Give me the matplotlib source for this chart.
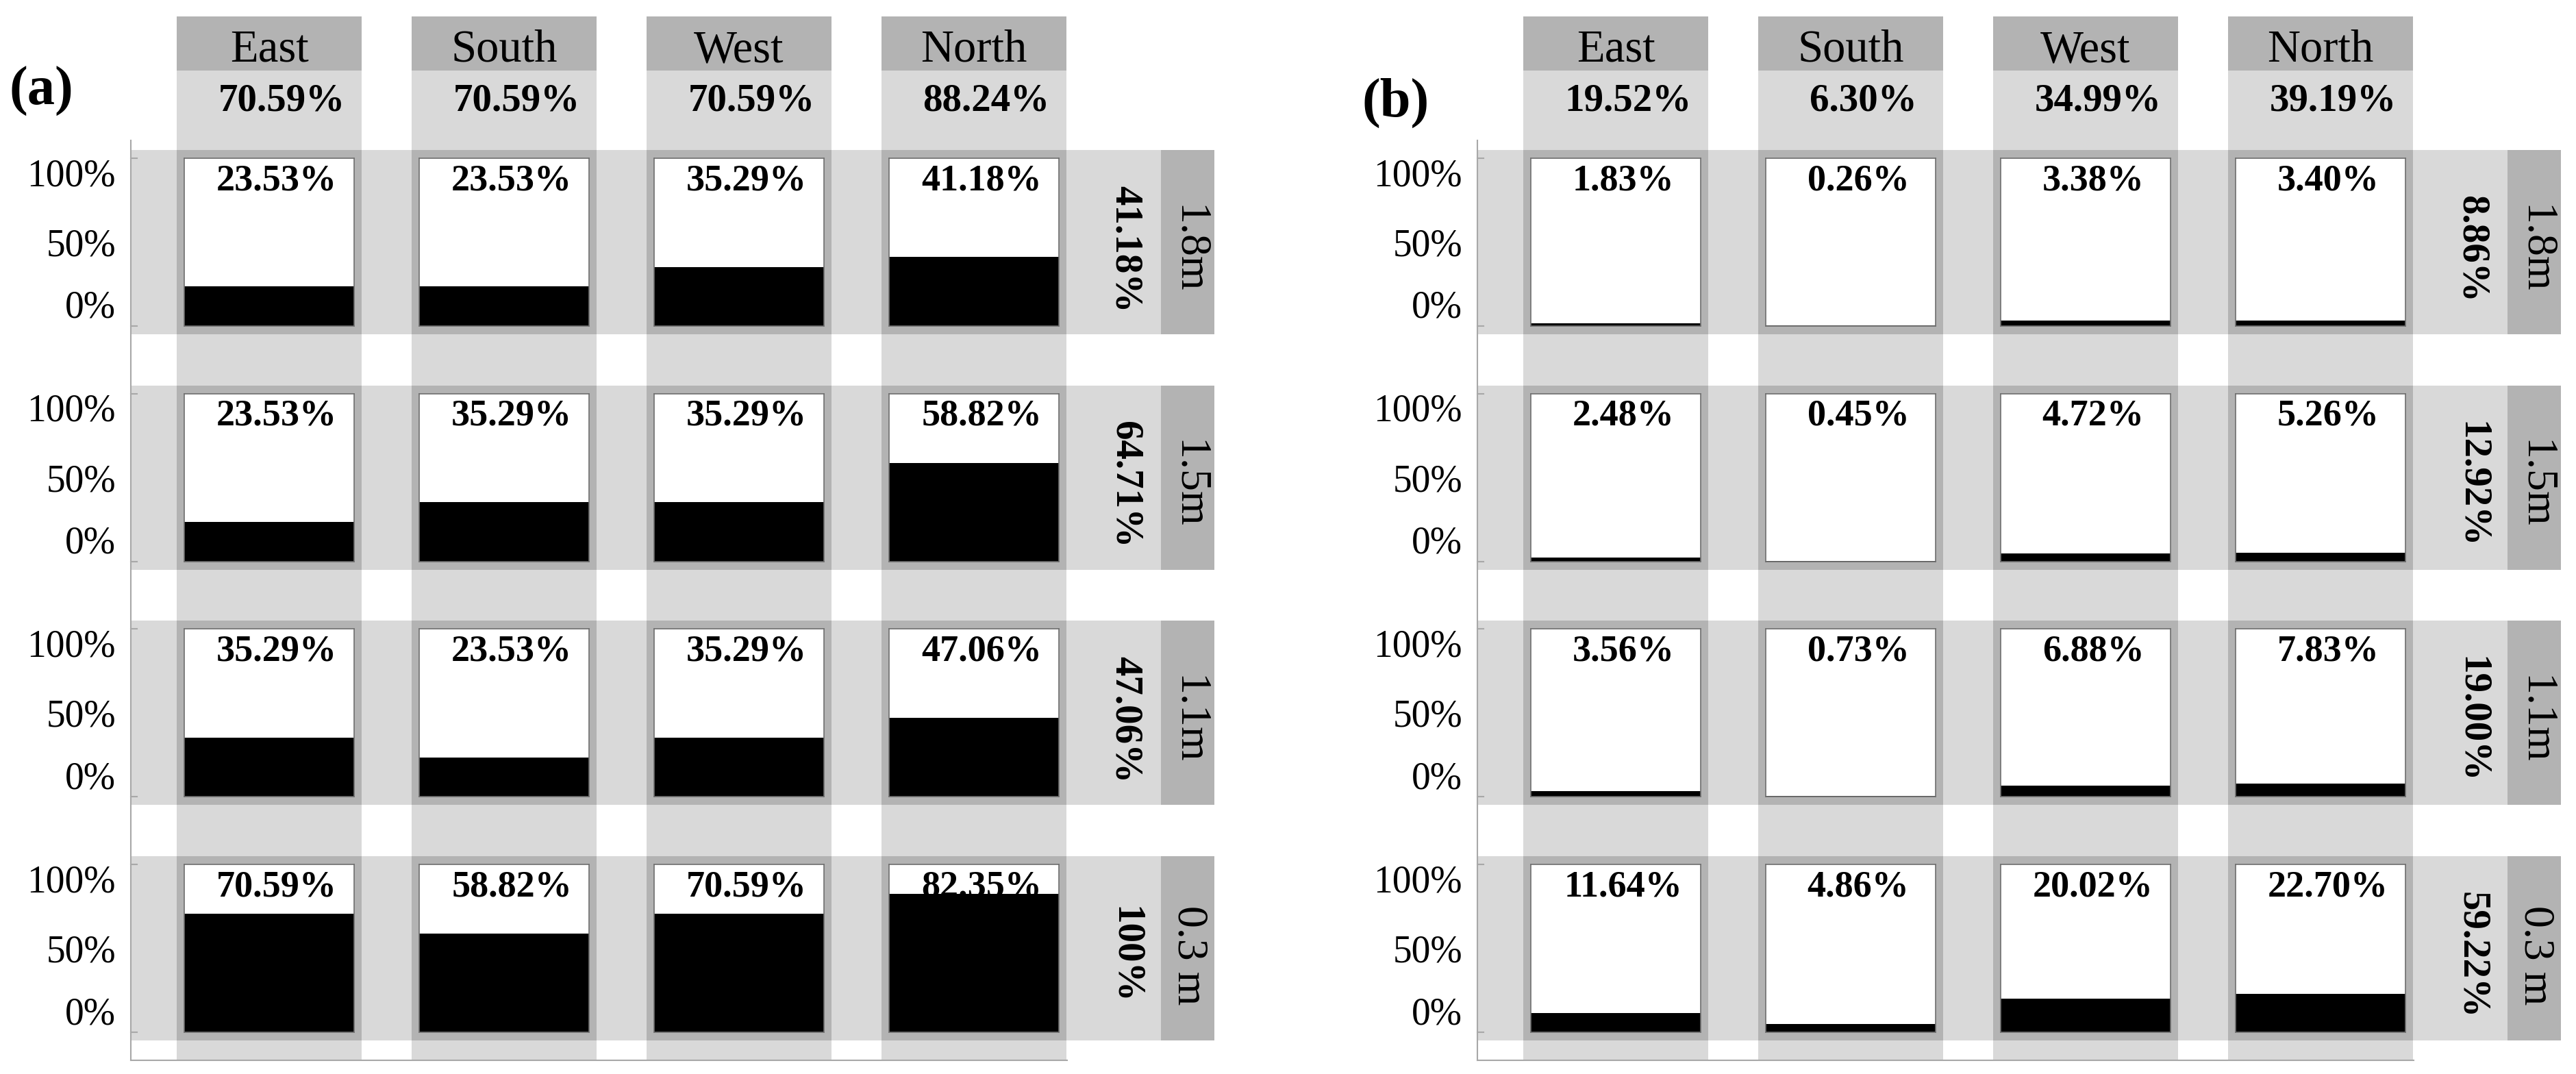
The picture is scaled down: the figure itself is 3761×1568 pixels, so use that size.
import matplotlib

matplotlib.use("Agg")
import matplotlib.pyplot as plt
from matplotlib.lines import Line2D
from matplotlib.patches import Rectangle

plt.rcParams["font.family"] = ["Liberation Serif", "DejaVu Serif"]

W, H = 3761, 1568

# data
directions = ["East", "South", "West", "North"]
heights = ["1.8m", "1.5m", "1.1m", "0.3 m"]

a_values = [
    [23.53, 23.53, 35.29, 41.18],
    [23.53, 35.29, 35.29, 58.82],
    [35.29, 23.53, 35.29, 47.06],
    [70.59, 58.82, 70.59, 82.35],
]
a_col_pct = [70.59, 70.59, 70.59, 88.24]
a_row_pct = [41.18, 64.71, 47.06, 100]

b_values = [
    [1.83, 0.26, 3.38, 3.40],
    [2.48, 0.45, 4.72, 5.26],
    [3.56, 0.73, 6.88, 7.83],
    [11.64, 4.86, 20.02, 22.70],
]
b_col_pct = [19.52, 6.30, 34.99, 39.19]
b_row_pct = [8.86, 12.92, 19.00, 59.22]

LIGHT = "#d9d9d9"
DARK = "#b3b3b3"
FRAME = "#a8a8a8"


def fx(x):
    return x / W


def fy(y):
    return 1 - y / H


def pct(v):
    return "100%" if v == 100 else f"{v:.2f}%"


def add_rect(fig, x0, y0, x1, y1, color, z):
    fig.add_artist(
        Rectangle(
            (fx(x0), fy(y1)), (x1 - x0) / W, (y1 - y0) / H,
            transform=fig.transFigure, facecolor=color, edgecolor="none", zorder=z,
        )
    )


def add_line(fig, xs, ys, z=-1):
    fig.add_artist(Line2D([fx(x) for x in xs], [fy(y) for y in ys],
                          transform=fig.transFigure, color=FRAME, lw=1.5, zorder=z))


def draw_panel(fig, dx, tag, tag_xy, values, col_pct, row_pct):
    col_x = [258 + dx + 343 * i for i in range(4)]
    row_y = [219 + 343.7 * j for j in range(4)]
    col_w, row_h = 270, 269
    header_top, header_bottom, bottom = 24, 103, 1548

    # background bands
    for x in col_x:
        add_rect(fig, x, header_bottom, x + col_w, bottom, LIGHT, -3)
        add_rect(fig, x, header_top, x + col_w, header_bottom, DARK, -2)
    for y in row_y:
        add_rect(fig, 191 + dx, y, 1695 + dx, y + row_h, LIGHT, -3)
        add_rect(fig, 1695 + dx, y, 1773 + dx, y + row_h, DARK, -2)
        for x in col_x:
            add_rect(fig, x, y, x + col_w, y + row_h, DARK, -2)

    # frame lines with small ticks
    add_line(fig, [191 + dx] * 2, [205, bottom])
    add_line(fig, [191 + dx, 1558 + dx], [bottom] * 2)
    for y in row_y:
        for ty in (y + 12, y + 257):
            add_line(fig, [191 + dx, 200 + dx], [ty, ty])

    fig.text(fx(tag_xy[0]), fy(tag_xy[1]), tag, ha="center", va="center",
             fontsize=58, fontweight="bold")

    for i, x in enumerate(col_x):
        cx = x + col_w / 2
        fig.text(fx(cx), fy(90), directions[i], ha="center", va="baseline", fontsize=48)
        fig.text(fx(cx + 18), fy(162), pct(col_pct[i]), ha="center", va="baseline",
                 fontsize=41, fontweight="bold")

    for j, y in enumerate(row_y):
        cy = y + row_h / 2 + 10
        fig.text(fx(1643 + dx), fy(cy), pct(row_pct[j]), ha="center", va="center",
                 rotation=-90, fontsize=41, fontweight="bold")
        fig.text(fx(1735 + dx), fy(cy), heights[j], ha="center", va="center",
                 rotation=-90, fontsize=46)

        for i, x in enumerate(col_x):
            ax = fig.add_axes([fx(x + 11), fy(y + 257), 248 / W, 245 / H])
            ax.set_facecolor("white")
            ax.bar(0, values[j][i], width=1, color="black", zorder=2)
            ax.text(0.545, 1 - 46 / 245, pct(values[j][i]), transform=ax.transAxes,
                    ha="center", va="baseline", fontsize=39, fontweight="bold", zorder=1)
            ax.set_xlim(-0.5, 0.5)
            ax.set_ylim(0, 100)
            ax.set_xticks([])
            for spine in ax.spines.values():
                spine.set_color("#6e6e6e")
                spine.set_linewidth(1.2)
            if i == 0:
                ax.set_yticks([0, 50, 100])
                ax.set_yticklabels(["0%", "50%", "100%"], fontsize=40)
                ax.tick_params(axis="y", length=0, pad=72)
                labels = ax.get_yticklabels()
                labels[0].set_va("bottom")
                labels[2].set_va("top")
            else:
                ax.set_yticks([])


fig = plt.figure(figsize=(W / 100, H / 100), dpi=100)
draw_panel(fig, 0, "(a)", (60, 133), a_values, a_col_pct, a_row_pct)
draw_panel(fig, 1966, "(b)", (2038, 150), b_values, b_col_pct, b_row_pct)
fig.savefig("out.png", dpi=100)
plt.close(fig)
